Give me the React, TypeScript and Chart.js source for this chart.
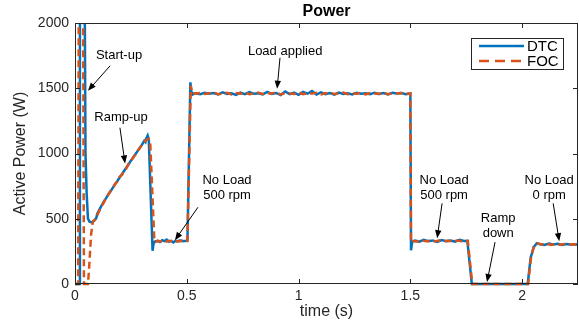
import React, { useEffect, useRef } from 'react';
import { Chart, registerables } from 'chart.js';

Chart.register(...registerables);

// ---------- data ----------
const X_TICKS = [0, 0.5, 1, 1.5, 2];
const Y_TICKS = [0, 500, 1000, 1500, 2000];
const X_RANGE = [0, 2.25];
const Y_RANGE = [0, 2000];

const TITLE = 'Power';
const X_TITLE = 'time (s)';
const Y_TITLE = 'Active Power (W)';
const SERIES_NAMES = ['DTC', 'FOC'];

const DTC_TIME = [
  0, 0.018, 0.022, 0.04, 0.044, 0.047, 0.052, 0.058, 0.065, 0.075, 0.085, 0.095,
  0.1, 0.11, 0.12, 0.13, 0.14, 0.15, 0.16, 0.17, 0.18, 0.19, 0.2, 0.21, 0.22, 0.23, 0.24, 0.25,
  0.26, 0.27, 0.28, 0.29, 0.3, 0.31, 0.315, 0.32, 0.325, 0.33,
  0.347, 0.352, 0.36, 0.37, 0.38, 0.39, 0.4, 0.41, 0.42, 0.43, 0.44, 0.45, 0.46, 0.47, 0.48, 0.49, 0.5,
  0.503, 0.516, 0.52, 0.526,
  0.54, 0.56, 0.58, 0.6, 0.62, 0.64, 0.66, 0.68, 0.7, 0.72, 0.74, 0.76, 0.78, 0.8, 0.82, 0.84, 0.86,
  0.88, 0.9, 0.92, 0.94, 0.96, 0.98, 1.0, 1.02, 1.04, 1.06, 1.08, 1.1, 1.12, 1.14, 1.16, 1.18, 1.2,
  1.22, 1.24, 1.26, 1.28, 1.3, 1.32, 1.34, 1.36, 1.38, 1.4, 1.42, 1.44, 1.46, 1.48, 1.5,
  1.503, 1.508, 1.52, 1.54, 1.56, 1.58, 1.6, 1.62, 1.64, 1.66, 1.68, 1.7, 1.72, 1.74, 1.755,
  1.775, 2.025, 2.038, 2.052, 2.066, 2.08, 2.1, 2.12, 2.14, 2.16, 2.18, 2.2, 2.22, 2.24, 2.25,
];
const DTC_POWER = [
  0, 0, 2300, 2300, 2000, 1000, 700, 500, 478, 472, 482, 505,
  540, 572, 605, 635, 660, 690, 712, 740, 765, 790, 818, 840, 868, 892, 918, 945,
  968, 995, 1018, 1045, 1068, 1098, 1088, 1120, 1138, 1110,
  255, 318, 328, 330, 322, 335, 328, 340, 325, 330, 318, 332, 326, 335, 328, 330, 332,
  335, 1545, 1478, 1452,
  1462, 1455, 1466, 1458, 1463, 1452, 1468, 1457, 1461, 1449, 1466, 1455, 1470, 1458, 1462, 1453, 1472,
  1456, 1464, 1448, 1475, 1455, 1466, 1450, 1472, 1458, 1478, 1452, 1468, 1455, 1463, 1451, 1467, 1457,
  1462, 1453, 1465, 1458, 1461, 1454, 1466, 1457, 1463, 1452, 1465, 1459, 1463, 1455, 1460,
  258, 322, 332, 325, 338, 328, 334, 322, 336, 327, 333, 325, 338, 329, 331,
  0, 0, 200, 282, 313, 305, 300, 310, 303, 308, 299, 306, 301, 305, 300,
];

const FOC_TIME = [
  0, 0.014, 0.017, 0.036, 0.04, 0.058, 0.063, 0.072, 0.08, 0.09,
  0.1, 0.11, 0.12, 0.13, 0.14, 0.15, 0.16, 0.17, 0.18, 0.19, 0.2, 0.21, 0.22, 0.23, 0.24, 0.25,
  0.26, 0.27, 0.28, 0.29, 0.3, 0.31, 0.32, 0.33, 0.336,
  0.355, 0.36, 0.37, 0.38, 0.39, 0.4, 0.41, 0.42, 0.43, 0.44, 0.45, 0.46, 0.47, 0.48, 0.49, 0.503,
  0.518, 0.524,
  0.54, 0.56, 0.58, 0.6, 0.62, 0.64, 0.66, 0.68, 0.7, 0.72, 0.74, 0.76, 0.78, 0.8, 0.82, 0.84, 0.86,
  0.88, 0.9, 0.92, 0.94, 0.96, 0.98, 1.0, 1.02, 1.04, 1.06, 1.08, 1.1, 1.12, 1.14, 1.16, 1.18, 1.2,
  1.22, 1.24, 1.26, 1.28, 1.3, 1.32, 1.34, 1.36, 1.38, 1.4, 1.42, 1.44, 1.46, 1.48, 1.5,
  1.503, 1.51, 1.53, 1.55, 1.57, 1.59, 1.61, 1.63, 1.65, 1.67, 1.69, 1.71, 1.73, 1.757,
  1.777, 2.027, 2.04, 2.054, 2.068, 2.09, 2.11, 2.13, 2.15, 2.17, 2.19, 2.21, 2.23, 2.25,
];
const FOC_POWER = [
  0, 0, 2300, 2300, 0, 0, 120, 380, 480, 495,
  530, 565, 600, 628, 665, 685, 718, 735, 770, 785, 822, 835, 872, 888, 922, 940,
  972, 990, 1022, 1040, 1072, 1090, 1105, 1112, 1100,
  330, 322, 332, 326, 330, 335, 324, 331, 328, 334, 325, 330, 327, 333, 329, 330,
  1520, 1462,
  1459, 1464, 1456, 1462, 1468, 1455, 1460, 1465, 1452, 1463, 1458, 1467, 1454, 1461, 1466, 1457, 1463,
  1459, 1470, 1452, 1464, 1460, 1457, 1468, 1455, 1462, 1459, 1466, 1453, 1461, 1464, 1456, 1460, 1467,
  1455, 1461, 1458, 1465, 1452, 1463, 1460, 1457, 1466, 1454, 1462, 1459, 1464, 1458, 1461,
  320, 330, 326, 334, 328, 332, 325, 335, 329, 331, 326, 334, 328, 330,
  0, 0, 210, 295, 310, 302, 308, 300, 306, 301, 307, 302, 305, 301,
];

// annotations: text centre (t, W), arrow tail (t, W) -> arrow head (t, W)
const ANNOTATIONS = [
  { lines: ['Start-up'], at: [0.197, 1748], from: [0.157, 1672], to: [0.058, 1481] },
  { lines: ['Ramp-up'], at: [0.206, 1275], from: [0.201, 1198], to: [0.224, 924] },
  { lines: ['No Load', '500 rpm'], at: [0.68, 737], from: [0.55, 588], to: [0.447, 336] },
  { lines: ['Load applied'], at: [0.94, 1786], from: [0.917, 1733], to: [0.904, 1496] },
  { lines: ['No Load', '500 rpm'], at: [1.651, 737], from: [1.642, 618], to: [1.62, 351] },
  { lines: ['Ramp', 'down'], at: [1.893, 443], from: [1.879, 321], to: [1.843, 15] },
  { lines: ['No Load', '0 rpm'], at: [2.121, 737], from: [2.139, 618], to: [2.166, 328] },
];

// ---------- styles ----------
const FONT = '"Liberation Sans", Arial, Helvetica, sans-serif';
const AXIS_COLOR = '#262626';
const BLUE = '#0072BD';
const ORANGE = '#D95319';
const DASH = [7, 4];

const framePlugin = {
  id: 'frame',
  afterDraw(chart: any) {
    const { ctx, chartArea: ca, scales } = chart;
    const xs = scales.x;
    const ys = scales.y;
    ctx.save();
    // box
    ctx.strokeStyle = AXIS_COLOR;
    ctx.lineWidth = 1;
    ctx.strokeRect(Math.round(ca.left) + 0.5, Math.round(ca.top) + 0.5, Math.round(ca.right - ca.left) - 1, Math.round(ca.bottom - ca.top) - 1);
    // inward ticks
    const tl = 5;
    ctx.beginPath();
    X_TICKS.forEach((v) => {
      const px = Math.round(xs.getPixelForValue(v)) + 0.5;
      ctx.moveTo(px, ca.bottom); ctx.lineTo(px, ca.bottom - tl);
      ctx.moveTo(px, ca.top); ctx.lineTo(px, ca.top + tl);
    });
    Y_TICKS.forEach((v) => {
      const py = Math.round(ys.getPixelForValue(v)) + 0.5;
      ctx.moveTo(ca.left, py); ctx.lineTo(ca.left + tl, py);
      ctx.moveTo(ca.right, py); ctx.lineTo(ca.right - tl, py);
    });
    ctx.stroke();

    // title
    ctx.fillStyle = '#000';
    ctx.font = `bold 16px ${FONT}`;
    ctx.textAlign = 'center';
    ctx.textBaseline = 'middle';
    ctx.fillText(TITLE, (ca.left + ca.right) / 2, 12);

    // annotations
    ctx.font = `13px ${FONT}`;
    ctx.fillStyle = '#000';
    ctx.strokeStyle = '#000';
    ANNOTATIONS.forEach((a) => {
      const cx = xs.getPixelForValue(a.at[0]);
      const cy = ys.getPixelForValue(a.at[1]);
      const lh = 15;
      const y0 = cy - ((a.lines.length - 1) * lh) / 2;
      a.lines.forEach((ln, i) => ctx.fillText(ln, cx, y0 + i * lh));
      const x1 = xs.getPixelForValue(a.from[0]);
      const y1 = ys.getPixelForValue(a.from[1]);
      const x2 = xs.getPixelForValue(a.to[0]);
      const y2 = ys.getPixelForValue(a.to[1]);
      const ang = Math.atan2(y2 - y1, x2 - x1);
      const hl = 8;
      const hw = 3.2;
      ctx.lineWidth = 1;
      ctx.beginPath();
      ctx.moveTo(x1, y1);
      ctx.lineTo(x2 - Math.cos(ang) * hl * 0.8, y2 - Math.sin(ang) * hl * 0.8);
      ctx.stroke();
      ctx.beginPath();
      ctx.moveTo(x2, y2);
      ctx.lineTo(x2 - Math.cos(ang) * hl - Math.sin(ang) * hw, y2 - Math.sin(ang) * hl + Math.cos(ang) * hw);
      ctx.lineTo(x2 - Math.cos(ang) * hl + Math.sin(ang) * hw, y2 - Math.sin(ang) * hl - Math.cos(ang) * hw);
      ctx.closePath();
      ctx.fill();
    });

    // legend
    const bw = 92;
    const bh = 31;
    const bx = Math.round(ca.right) - 15 - bw;
    const by = Math.round(ca.top) + 15;
    ctx.fillStyle = '#fff';
    ctx.fillRect(bx, by, bw, bh);
    ctx.strokeStyle = AXIS_COLOR;
    ctx.lineWidth = 1;
    ctx.strokeRect(bx + 0.5, by + 0.5, bw, bh);
    const colors = [BLUE, ORANGE];
    ctx.font = `15px ${FONT}`;
    ctx.textAlign = 'left';
    ctx.textBaseline = 'middle';
    SERIES_NAMES.forEach((name, i) => {
      const ly = by + 8 + i * 15;
      ctx.strokeStyle = colors[i];
      ctx.lineWidth = 2.5;
      ctx.setLineDash(i === 1 ? [10, 6] : []);
      ctx.beginPath();
      ctx.moveTo(bx + 8, ly);
      ctx.lineTo(bx + 53, ly);
      ctx.stroke();
      ctx.setLineDash([]);
      ctx.fillStyle = '#000';
      ctx.fillText(name, bx + 56, ly + 1);
    });
    ctx.restore();
  },
};

export default function App() {
  const ref = useRef<HTMLCanvasElement>(null);
  useEffect(() => {
    const toPts = (ts: number[], ps: number[]) => ts.map((t, i) => ({ x: t, y: ps[i] }));
    const clip = { left: 0, top: 0, right: 0, bottom: 3 };
    const chart = new Chart(ref.current as HTMLCanvasElement, {
      type: 'line',
      data: {
        datasets: [
          {
            label: SERIES_NAMES[0],
            data: toPts(DTC_TIME, DTC_POWER),
            borderColor: BLUE,
            backgroundColor: BLUE,
            borderWidth: 2.5,
            pointRadius: 0,
            tension: 0,
            order: 2,
            clip,
          },
          {
            label: SERIES_NAMES[1],
            data: toPts(FOC_TIME, FOC_POWER),
            borderColor: ORANGE,
            backgroundColor: ORANGE,
            borderWidth: 2.5,
            borderDash: DASH,
            pointRadius: 0,
            tension: 0,
            order: 1,
            clip,
          },
        ],
      } as any,
      options: {
        animation: false,
        responsive: false,
        maintainAspectRatio: false,
        events: [],
        layout: { padding: { top: 23, right: 1, left: 0, bottom: 0 } },
        plugins: {
          legend: { display: false },
          tooltip: { enabled: false },
          title: { display: false },
        },
        scales: {
          x: {
            type: 'linear',
            min: X_RANGE[0],
            max: X_RANGE[1],
            grid: { display: false, drawTicks: false },
            border: { display: false },
            ticks: {
              padding: 4,
              color: AXIS_COLOR,
              font: { family: FONT, size: 14 },
              maxRotation: 0,
              autoSkip: false,
              callback: (v: any) => String(v),
            },
            afterBuildTicks: (s: any) => { s.ticks = X_TICKS.map((v) => ({ value: v })); },
            afterFit: (s: any) => { s.height = 45; },
            title: {
              display: true,
              text: X_TITLE,
              color: AXIS_COLOR,
              font: { family: FONT, size: 16 },
              padding: { top: 0, bottom: 8 },
            },
          },
          y: {
            type: 'linear',
            min: Y_RANGE[0],
            max: Y_RANGE[1],
            grid: { display: false, drawTicks: false },
            border: { display: false },
            ticks: {
              padding: 6,
              color: AXIS_COLOR,
              font: { family: FONT, size: 14 },
              autoSkip: false,
              callback: (v: any) => String(v),
            },
            afterBuildTicks: (s: any) => { s.ticks = Y_TICKS.map((v) => ({ value: v })); },
            afterFit: (s: any) => { s.width = 75; },
            title: {
              display: true,
              text: Y_TITLE,
              color: AXIS_COLOR,
              font: { family: FONT, size: 16 },
              padding: { top: 11, bottom: 0 },
            },
          },
        },
      } as any,
      plugins: [framePlugin],
    });
    return () => chart.destroy();
  }, []);
  return (
    <div style={{ position: 'fixed', left: 0, top: 0, width: 579, height: 329, background: '#fff' }}>
      <canvas ref={ref} width={579} height={329} style={{ display: 'block' }} />
    </div>
  );
}
